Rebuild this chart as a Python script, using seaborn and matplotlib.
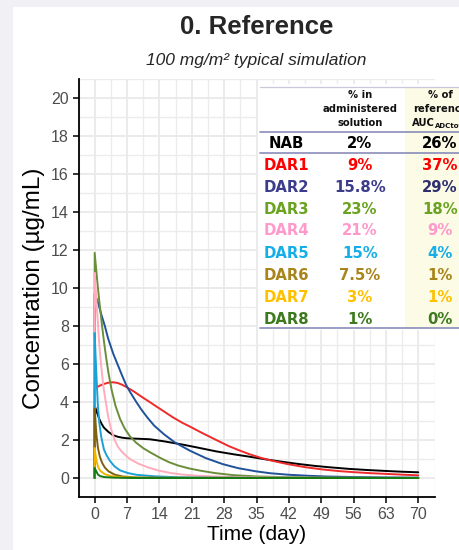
import numpy as np
import pandas as pd
import matplotlib
matplotlib.use("Agg")
import matplotlib.pyplot as plt
from matplotlib.patches import Rectangle
from matplotlib.lines import Line2D
from matplotlib.ticker import MultipleLocator
import seaborn as sns

# ---------------- data ----------------
species = ["NAB", "DAR1", "DAR2", "DAR3", "DAR4", "DAR5", "DAR6", "DAR7", "DAR8"]

nab_t = [0, 0, 0.5, 1.0, 1.5, 2, 3, 4, 5, 6, 7, 9, 11.9, 15, 19, 22.5, 26.3, 30, 33.5, 37, 40.7, 44, 47.5, 51, 55, 59, 63, 66.5, 70]
nab_c = [0, 3.8, 3.45, 3.1, 2.85, 2.65, 2.42, 2.25, 2.17, 2.12, 2.09, 2.07, 2.04, 1.93, 1.76, 1.59, 1.40, 1.25, 1.12, 0.98, 0.85, 0.74, 0.64, 0.56, 0.48, 0.42, 0.37, 0.33, 0.30]

dar1_t = [0, 0, 1, 2, 3, 4, 5, 6, 7.2, 8.5, 10, 11.9, 13, 15, 17, 19, 20.5, 23, 26.3, 29, 31, 33.5, 36, 38, 40.6, 42, 45.5, 49.3, 53, 56.5, 60, 63.6, 67, 70]
dar1_c = [0, 4.7, 4.85, 4.95, 5.02, 5.04, 5.0, 4.9, 4.74, 4.55, 4.3, 4.0, 3.82, 3.5, 3.18, 2.9, 2.72, 2.4, 2.0, 1.68, 1.48, 1.25, 1.06, 0.93, 0.79, 0.72, 0.57, 0.45, 0.36, 0.30, 0.25, 0.21, 0.17, 0.14]

dar2_t = [0, 0, 0.7, 1.5, 2.2, 2.9, 4, 5, 6, 6.9, 7.6, 9, 10.1, 11.5, 12.9, 15, 17.3, 20.5, 24, 27.7, 31, 34.9, 38, 42, 46, 50, 56, 63, 70]
dar2_c = [0, 9.7, 9.25, 8.55, 8.0, 7.35, 6.55, 5.95, 5.35, 4.85, 4.55, 4.0, 3.6, 3.15, 2.75, 2.3, 1.88, 1.45, 1.05, 0.73, 0.52, 0.35, 0.25, 0.17, 0.12, 0.08, 0.05, 0.03, 0.02]

dar3_t = [0, 0, 0.5, 1, 1.6, 2, 2.5, 3, 3.7, 4.5, 5.5, 6.5, 7.6, 9, 10.5, 12, 14, 16, 18, 20.5, 23, 26, 30, 35, 42, 50, 60, 70]
dar3_c = [0, 11.85, 10.5, 9.3, 8.0, 7.2, 6.3, 5.5, 4.6, 3.8, 3.1, 2.6, 2.2, 1.85, 1.57, 1.35, 1.08, 0.84, 0.66, 0.5, 0.38, 0.26, 0.15, 0.08, 0.04, 0.02, 0.01, 0.0]

dar4_t = [0, 0, 0.35, 0.7, 1.0, 1.4, 1.8, 2.2, 2.9, 3.5, 4.3, 5, 5.8, 7, 7.9, 9.5, 11.5, 14, 16.5, 19, 22.3, 26, 30, 35, 45, 70]
dar4_c = [0, 10.8, 9.4, 8.16, 7.0, 5.9, 5.0, 4.3, 3.25, 2.6, 2.02, 1.65, 1.40, 1.12, 0.96, 0.75, 0.56, 0.38, 0.26, 0.18, 0.12, 0.08, 0.05, 0.03, 0.01, 0.0]

dar5_t = [0, 0, 0.2, 0.36, 0.7, 1.0, 1.4, 2, 2.5, 3.3, 4.3, 5.5, 7.2, 9, 12.9, 18, 25, 35, 70]
dar5_c = [0, 7.63, 6.4, 5.5, 3.77, 2.9, 2.19, 1.5, 1.23, 0.9, 0.61, 0.4, 0.26, 0.17, 0.09, 0.04, 0.02, 0.01, 0.0]

dar6_t = [0, 0, 0.2, 0.36, 0.7, 1.1, 1.6, 2.2, 3, 4.3, 6, 9, 15, 70]
dar6_c = [0, 3.65, 2.9, 2.3, 1.6, 1.14, 0.8, 0.55, 0.35, 0.18, 0.08, 0.03, 0.01, 0.0]

dar7_t = [0, 0, 0.2, 0.4, 0.7, 1.2, 2.2, 3.5, 6, 10, 70]
dar7_c = [0, 1.58, 1.2, 0.9, 0.61, 0.38, 0.2, 0.1, 0.04, 0.01, 0.0]

dar8_t = [0, 0, 0.2, 0.5, 0.7, 1.2, 2, 4, 8, 70]
dar8_c = [0, 0.53, 0.42, 0.28, 0.18, 0.1, 0.05, 0.02, 0.0, 0.0]

pct_solution = ["2%", "9%", "15.8%", "23%", "21%", "15%", "7.5%", "3%", "1%"]
pct_auc = ["26%", "37%", "29%", "18%", "9%", "4%", "1%", "1%", "0%"]

title = "0. Reference"
subtitle = "100 mg/m² typical simulation"
x_label = "Time (day)"
y_label = "Concentration (µg/mL)"
x_ticks = list(range(0, 71, 7))
y_ticks = list(range(0, 21, 2))

# ---------------- styling ----------------
curve_colors = ["#000000", "#ee2a2a", "#1f5299", "#6b8e3a", "#ffacbd",
                "#1ba1d6", "#7d6010", "#f0b400", "#157a15"]
text_colors = ["#000000", "#ff0000", "#3c3c8c", "#6aa322", "#ff99cc",
               "#16aee8", "#a8841a", "#ffc000", "#3d7a1e"]
auc_colors = ["#000000", "#ff0000", "#2e2e6e", "#6aa322", "#ff99cc",
              "#16aee8", "#a8841a", "#ffc000", "#3d7a1e"]

series_t = [nab_t, dar1_t, dar2_t, dar3_t, dar4_t, dar5_t, dar6_t, dar7_t, dar8_t]
series_c = [nab_c, dar1_c, dar2_c, dar3_c, dar4_c, dar5_c, dar6_c, dar7_c, dar8_c]

frames = []
for name, t, c in zip(species, series_t, series_c):
    frames.append(pd.DataFrame({"time": t, "conc": c, "species": name}))
df = pd.concat(frames, ignore_index=True)

sns.set_style("white")
plt.rcParams["font.family"] = ["Liberation Sans", "DejaVu Sans"]

W, H = 459, 550
fig = plt.figure(figsize=(W / 100, H / 100), dpi=100)
fig.patch.set_facecolor("#f1f0f5")


def fx(x):
    return x / W


def fy(y):
    return 1 - y / H


# white card (behind everything)
card = Rectangle((fx(13), 0), 1 - fx(13), fy(7), transform=fig.transFigure,
                 facecolor="white", edgecolor="none", zorder=-10)
fig.add_artist(card)

ax_l, ax_r, ax_t, ax_b = 78.5, 434.5, 79, 497
ax = fig.add_axes([fx(ax_l), fy(ax_b), fx(ax_r - ax_l), (ax_b - ax_t) / H])
ax.set_zorder(1)
ax.set_facecolor("white")

sns.lineplot(data=df, x="time", y="conc", hue="species", hue_order=species,
             palette=dict(zip(species, curve_colors)), estimator=None,
             sort=False, units="species", linewidth=1.4, legend=False, ax=ax)

ax.set_xlim(-3.5, 73.5)
ax.set_ylim(-1, 21)
ax.set_xticks(x_ticks)
ax.set_yticks(y_ticks)
ax.xaxis.set_minor_locator(MultipleLocator(3.5))
ax.yaxis.set_minor_locator(MultipleLocator(1))
ax.grid(True, which="major", color="#e9e9e9", linewidth=1.3)
ax.grid(True, which="minor", color="#ececec", linewidth=1.0)
ax.set_axisbelow(True)
for s in ["top", "right"]:
    ax.spines[s].set_visible(False)
for s in ["left", "bottom"]:
    ax.spines[s].set_color("black")
    ax.spines[s].set_linewidth(1.3)
ax.tick_params(which="major", direction="out", length=4, width=1.1, color="black",
               labelsize=11.5, labelcolor="#4d4d4d", bottom=True, left=True, pad=3)
ax.tick_params(which="minor", length=0)
ax.set_xlabel(x_label, fontsize=15, color="black", labelpad=2)
ax.set_ylabel(y_label, fontsize=17.5, color="black", labelpad=4)

# titles
cx = fx((ax_l + ax_r) / 2)
fig.text(cx, fy(27), title, ha="center", va="center", fontsize=18.5, fontweight="bold")
fig.text(cx, fy(60), subtitle, ha="center", va="center", fontsize=12.5, style="italic")

# ---------------- table (drawn above the axes) ----------------
def add_rect(x0, y0, x1, y1, color, z):
    fig.add_artist(Rectangle((fx(x0), fy(y1)), fx(x1 - x0), (y1 - y0) / H,
                             transform=fig.transFigure, facecolor=color,
                             edgecolor="none", zorder=z))


add_rect(258, 84, W, 330, "white", 5)
add_rect(405, 87, W, 328, "#fbfbe6", 6)
line_col = "#8a8cba"
for yy, col, lw in [(87, "#c8c8d8", 0.9), (132, line_col, 1.2), (153, line_col, 1.2), (328, line_col, 1.2)]:
    fig.add_artist(Line2D([fx(260), 1.0], [fy(yy), fy(yy)], transform=fig.transFigure,
                          color=col, linewidth=lw, zorder=7))

hdr = dict(ha="center", va="center", fontsize=7.2, fontweight="bold",
           family=["DejaVu Sans"], zorder=8, color="#111111")
col2, col3 = 360, 440
fig.text(fx(col2), fy(95), "% in", **hdr)
fig.text(fx(col2), fy(109), "administered", **hdr)
fig.text(fx(col2), fy(123), "solution", **hdr)
fig.text(fx(col3), fy(95), "% of", **hdr)
fig.text(fx(col3), fy(109), "reference", **hdr)
fig.text(fx(col3 - 5), fy(123), "AUC", ha="right", va="center", fontsize=7.2,
         fontweight="bold", family=["DejaVu Sans"], zorder=8, color="#111111")
fig.text(fx(col3 - 5), fy(126), "ADCtot", ha="left", va="center", fontsize=5,
         fontweight="bold", family=["DejaVu Sans"], zorder=8, color="#111111")

row_y = [143, 165, 187, 209, 231, 253, 275, 297, 319]
rk = dict(ha="center", va="center", fontsize=10.7, fontweight="bold",
          family=["DejaVu Sans"], zorder=8)
for i, name in enumerate(species):
    fig.text(fx(286), fy(row_y[i]), name, color=text_colors[i], **rk)
    fig.text(fx(col2), fy(row_y[i]), pct_solution[i], color=text_colors[i], **rk)
    fig.text(fx(col3), fy(row_y[i]), pct_auc[i], color=auc_colors[i], **rk)

fig.savefig("out.png", dpi=100, facecolor=fig.get_facecolor())
